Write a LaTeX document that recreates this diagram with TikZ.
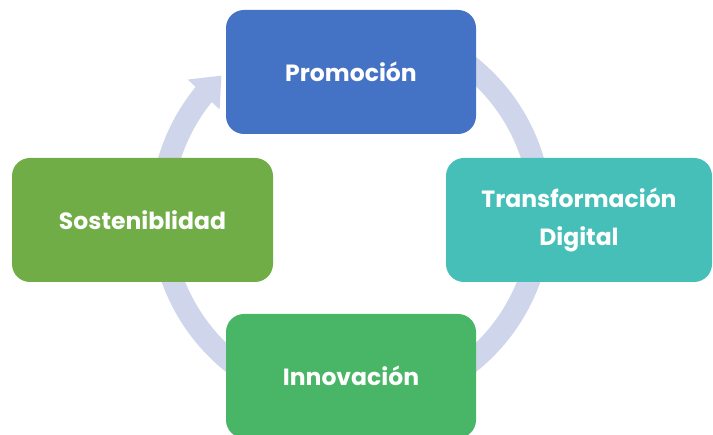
\documentclass[tikz,border=0pt]{standalone}
\usepackage{fontspec}
\setmainfont{Poppins}
\usetikzlibrary{arrows.meta,bending}
\definecolor{pr}{RGB}{68,114,196}
\definecolor{so}{RGB}{112,173,71}
\definecolor{td}{RGB}{69,191,184}
\definecolor{in}{RGB}{72,182,102}
\definecolor{rg}{RGB}{207,213,234}

\begin{document}
\begin{tikzpicture}[x=1pt,y=1pt,
    blk/.style={rectangle,rounded corners=18pt,minimum height=124pt,minimum width=250pt,text=white,font=\fontsize{23.5}{38}\selectfont\bfseries,align=center,inner sep=0pt,fill=#1},
    ring/.style={draw=rg,line width=22pt,-{Triangle[width=42pt,length=26pt,flex]}},
]
\useasboundingbox (0,0) rectangle (713,435);

\draw[ring] (351,220.5) ++(60:190) arc[start angle=60,end angle=-227,radius=190];

\node[blk=pr] (prom) at (351,363) {Promoción};
\node[blk=so,minimum width=261pt] (sost) at (142.5,215) {Sosteniblidad};
\node[blk=td,minimum width=266pt] (trans) at (579,215) {Transformación\\Digital};
\node[blk=in] (inno) at (351,59) {Innovación};
\end{tikzpicture}
\end{document}
